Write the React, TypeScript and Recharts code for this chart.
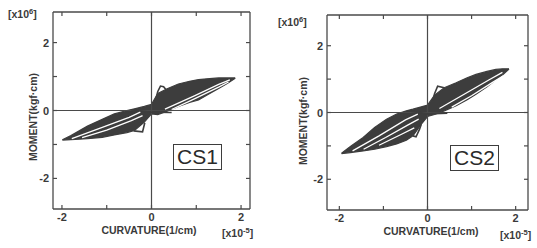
import React from "react";
import {
  ComposedChart,
  Area,
  Scatter,
  XAxis,
  YAxis,
  ReferenceLine
} from "recharts";

// axis ticks (curvature x10^-5, moment x10^6)
const X_TICKS = [-2, -1, 0, 1, 2];
const Y_TICKS = [-2, -1, 0, 1, 2];
const LABELED = [-2, 0, 2];

// CS1 envelope of the loops: curvature, lower moment, upper moment
const CS1_X = [-1.99, -1.8, -1.43, -1.1, -0.83, -0.55, -0.38, -0.16, 0, 0.14, 0.35, 0.6, 0.85, 1.05, 1.3, 1.5, 1.7, 1.87];
const CS1_LO = [-0.87, -0.86, -0.83, -0.79, -0.72, -0.65, -0.59, -0.34, -0.1, -0.12, -0.02, 0.12, 0.24, 0.31, 0.5, 0.65, 0.8, 0.95];
const CS1_HI = [-0.86, -0.74, -0.46, -0.26, -0.1, 0.0, 0.05, 0.12, 0.18, 0.5, 0.64, 0.78, 0.86, 0.91, 0.94, 0.96, 0.96, 0.96];

// gaps between loop branches (white) and the pinching "ears"
const CS1_GAP_1 = [[-1.78, -0.83], [-1.1, -0.5], [-0.5, -0.2], [-0.25, -0.05]];
const CS1_GAP_2 = [[-1.55, -0.8], [-1.0, -0.58], [-0.45, -0.3], [-0.2, -0.15]];
const CS1_GAP_3 = [[0.3, 0.04], [0.97, 0.44], [1.5, 0.77], [1.75, 0.9]];
const CS1_GAP_4 = [[0.45, 0.03], [0.97, 0.35], [1.5, 0.69], [1.72, 0.84]];
const CS1_EAR_UP = [[0.1, 0.35], [0.14, 0.56], [0.2, 0.72], [0.27, 0.7], [0.33, 0.6]];
const CS1_EAR_DN = [[-0.4, -0.6], [-0.2, -0.63], [-0.15, -0.36]];
const CS1_CROSS = [[-0.45, 0.02], [0, -0.05], [0.45, -0.06]];

// CS2
const CS2_X = [-1.95, -1.75, -1.46, -1.2, -0.93, -0.7, -0.48, -0.33, -0.14, 0, 0.16, 0.38, 0.65, 0.9, 1.1, 1.35, 1.55, 1.7, 1.85];
const CS2_LO = [-1.23, -1.2, -1.15, -1.1, -1.02, -0.94, -0.83, -0.7, -0.35, -0.12, -0.06, 0.05, 0.2, 0.38, 0.55, 0.77, 0.98, 1.12, 1.3];
const CS2_HI = [-1.22, -1.02, -0.75, -0.45, -0.2, -0.05, 0.05, 0.1, 0.17, 0.22, 0.52, 0.74, 0.89, 1.04, 1.14, 1.23, 1.29, 1.31, 1.31];

const CS2_GAP_1 = [[-1.7, -1.15], [-1.1, -0.7], [-0.5, -0.22], [-0.22, -0.05]];
const CS2_GAP_2 = [[-1.45, -1.1], [-0.95, -0.75], [-0.45, -0.38], [-0.2, -0.2]];
const CS2_GAP_3 = [[-1.1, -0.98], [-0.6, -0.66], [-0.3, -0.46]];
const CS2_GAP_4 = [[0.27, 0.12], [0.9, 0.6], [1.4, 0.98], [1.7, 1.2]];
const CS2_GAP_5 = [[0.55, 0.16], [1.0, 0.5], [1.45, 0.88], [1.72, 1.1]];
const CS2_EAR_UP = [[0.12, 0.35], [0.16, 0.56], [0.23, 0.79], [0.38, 0.74]];
const CS2_EAR_DN = [[-0.33, -0.7], [-0.26, -0.73], [-0.18, -0.5], [-0.14, -0.35]];
const CS2_CROSS = [[-0.45, 0.05], [0, -0.04], [0.45, -0.02]];

const DARK = "#3d3d3d";
const AX = "#4a4a4a";
const TXT = "#3a3a3a";

const pts = (a: number[][]) => a.map(([x, y]) => ({ x, y }));
const noDot = () => <g />;

function Tick(props: any) {
  const { x, y, payload, side } = props;
  const v = payload.value;
  const show = LABELED.includes(v) && (side === "bottom" || side === "left");
  const len = 4;
  let line;
  if (side === "bottom") line = <line x1={x} x2={x} y1={y} y2={y - len} stroke={AX} strokeWidth={1.2} />;
  else if (side === "top") line = <line x1={x} x2={x} y1={y} y2={y + len} stroke={AX} strokeWidth={1.2} />;
  else if (side === "left") line = <line x1={x} x2={x + len} y1={y} y2={y} stroke={AX} strokeWidth={1.2} />;
  else line = <line x1={x} x2={x - len} y1={y} y2={y} stroke={AX} strokeWidth={1.2} />;
  return (
    <g>
      {line}
      {show && side === "bottom" && (
        <text x={x} y={y + 12} textAnchor="middle" fontSize={11} fontWeight="bold" fill={TXT}>
          {v}
        </text>
      )}
      {show && side === "left" && (
        <text x={x - 4} y={y + 4} textAnchor="end" fontSize={11} fontWeight="bold" fill={TXT}>
          {v}
        </text>
      )}
    </g>
  );
}

function Panel(props: any) {
  const { xs, lo, hi, gaps, dark, domX, domY, width, margin } = props;
  const data = xs.map((x: number, i: number) => ({ x, band: [lo[i], hi[i]] }));
  return (
    <ComposedChart width={width} height={248} data={data} margin={margin}>
      <XAxis
        type="number"
        dataKey="x"
        domain={domX}
        ticks={X_TICKS}
        allowDataOverflow
        interval={0}
        height={20}
        tickSize={0}
        tickMargin={0}
        tickLine={false}
        axisLine={{ stroke: AX, strokeWidth: 1.3 }}
        tick={(p: any) => <Tick {...p} side="bottom" />}
      />
      <XAxis
        xAxisId="top"
        orientation="top"
        type="number"
        dataKey="x"
        domain={domX}
        ticks={X_TICKS}
        allowDataOverflow
        interval={0}
        height={4}
        tickSize={0}
        tickMargin={0}
        tickLine={false}
        axisLine={{ stroke: AX, strokeWidth: 1.3 }}
        tick={(p: any) => <Tick {...p} side="top" />}
      />
      <YAxis
        type="number"
        dataKey="y"
        domain={domY}
        ticks={Y_TICKS}
        allowDataOverflow
        interval={0}
        width={20}
        tickSize={0}
        tickMargin={0}
        tickLine={false}
        axisLine={{ stroke: AX, strokeWidth: 1.3 }}
        tick={(p: any) => <Tick {...p} side="left" />}
      />
      <YAxis
        yAxisId="r"
        orientation="right"
        type="number"
        domain={domY}
        ticks={Y_TICKS}
        allowDataOverflow
        interval={0}
        width={4}
        tickSize={0}
        tickMargin={0}
        tickLine={false}
        axisLine={{ stroke: AX, strokeWidth: 1.3 }}
        tick={(p: any) => <Tick {...p} side="right" />}
      />
      <ReferenceLine x={0} stroke={AX} strokeWidth={1.2} />
      <ReferenceLine y={0} stroke={AX} strokeWidth={1.2} />
      <Area
        dataKey="band"
        type="linear"
        stroke={DARK}
        strokeWidth={1.2}
        fill={DARK}
        fillOpacity={1}
        dot={false}
        activeDot={false}
        isAnimationActive={false}
      />
      {dark.map((d: number[][], i: number) => (
        <Scatter
          key={"d" + i}
          data={pts(d)}
          dataKey="y"
          line={{ stroke: DARK, strokeWidth: 1.6 }}
          lineType="joint"
          shape={noDot}
          isAnimationActive={false}
        />
      ))}
      {gaps.map((g: number[][], i: number) => (
        <Scatter
          key={"g" + i}
          data={pts(g)}
          dataKey="y"
          line={{ stroke: "#ffffff", strokeWidth: 1.3 }}
          lineType="joint"
          shape={noDot}
          isAnimationActive={false}
        />
      ))}
    </ComposedChart>
  );
}

const abs = (s: React.CSSProperties): React.CSSProperties => ({ position: "absolute", whiteSpace: "nowrap", ...s });

function Unit({ left, top, exp }: { left: number; top: number; exp: string }) {
  return (
    <div style={abs({ left, top, fontSize: 10.5, fontWeight: "bold", color: TXT, lineHeight: "12px" })}>
      [x10<sup style={{ fontSize: 7.5, verticalAlign: "4px", lineHeight: 0 }}>{exp}</sup>]
    </div>
  );
}

function Tag({ left, top, text }: { left: number; top: number; text: string }) {
  return (
    <div
      style={abs({
        left,
        top,
        width: 47,
        height: 24,
        border: `1.5px solid ${DARK}`,
        fontSize: 21,
        lineHeight: "24px",
        textAlign: "center",
        color: "#2a2a2a"
      })}
    >
      {text}
    </div>
  );
}

export default function App() {
  const font = '"Liberation Sans", Arial, sans-serif';
  return (
    <div style={{ position: "absolute", left: 0, top: 0, width: 537, height: 248, background: "#fff", fontFamily: font, overflow: "hidden" }}>
      <div style={abs({ left: 0, top: 0 })}>
        <Panel
          xs={CS1_X}
          lo={CS1_LO}
          hi={CS1_HI}
          gaps={[CS1_GAP_1, CS1_GAP_2, CS1_GAP_3, CS1_GAP_4]}
          dark={[CS1_EAR_UP, CS1_EAR_DN, CS1_CROSS]}
          domX={[-2.2, 2.2]}
          domY={[-2.9, 2.9]}
          width={270}
          margin={{ left: 33, right: 16, top: 8, bottom: 19 }}
        />
      </div>
      <div style={abs({ left: 270, top: 0 })}>
        <Panel
          xs={CS2_X}
          lo={CS2_LO}
          hi={CS2_HI}
          gaps={[CS2_GAP_1, CS2_GAP_2, CS2_GAP_3, CS2_GAP_4, CS2_GAP_5]}
          dark={[CS2_EAR_UP, CS2_EAR_DN, CS2_CROSS]}
          domX={[-2.28, 2.28]}
          domY={[-2.92, 2.92]}
          width={267}
          margin={{ left: 37, right: 5, top: 11, bottom: 18 }}
        />
      </div>

      <Unit left={8} top={8} exp="6" />
      <Unit left={278} top={16} exp="6" />
      <Unit left={222} top={227} exp="-5" />
      <Unit left={500} top={229} exp="-5" />

      <div style={abs({ left: 149, top: 230, transform: "translate(-50%,-50%)", fontSize: 10.5, fontWeight: "bold", color: TXT })}>
        CURVATURE(1/cm)
      </div>
      <div style={abs({ left: 431, top: 231, transform: "translate(-50%,-50%)", fontSize: 10.5, fontWeight: "bold", color: TXT })}>
        CURVATURE(1/cm)
      </div>
      <div style={abs({ left: 33, top: 117, transform: "translate(-50%,-50%) rotate(-90deg)", fontSize: 10.5, fontWeight: "bold", color: TXT })}>
        MOMENT(kgf·cm)
      </div>
      <div style={abs({ left: 303, top: 121, transform: "translate(-50%,-50%) rotate(-90deg)", fontSize: 10.5, fontWeight: "bold", color: TXT })}>
        MOMENT(kgf·cm)
      </div>

      <Tag left={173} top={144} text="CS1" />
      <Tag left={450} top={145} text="CS2" />
    </div>
  );
}
